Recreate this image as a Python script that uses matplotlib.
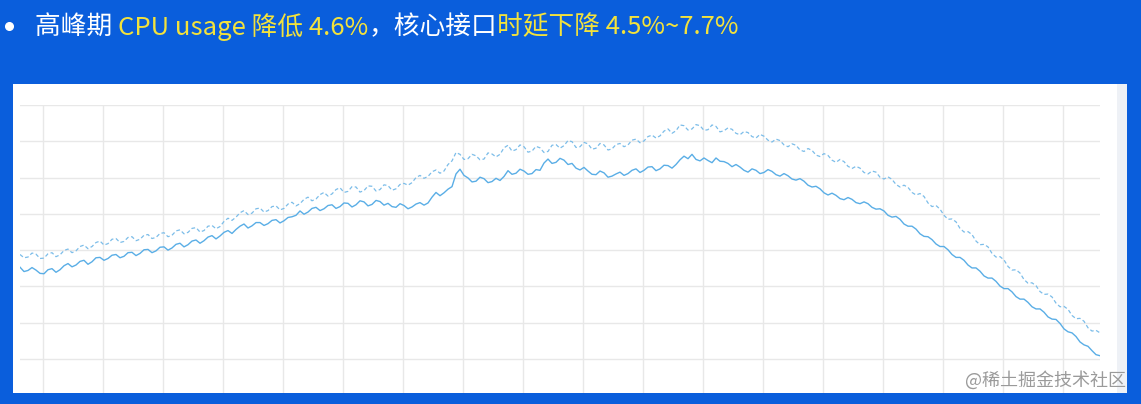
import matplotlib
matplotlib.use('Agg')
import matplotlib.pyplot as plt
import numpy as np
from matplotlib.patches import Rectangle
from matplotlib.lines import Line2D

# two series (arbitrary units, grid step = 10)
baseline = [
    28.8, 27.9, 28.1, 29.2, 28.9, 27.7, 27.8, 29.0, 29.3, 28.2,
    28.7, 29.9, 30.3, 29.3, 29.8, 31.0, 31.4, 30.4, 31.0, 32.1,
    32.5, 31.4, 31.8, 33.0, 33.2, 32.1, 32.4, 33.5, 33.7, 32.6,
    33.0, 34.1, 34.3, 33.2, 33.5, 34.6, 34.8, 33.7, 34.1, 35.3,
    35.6, 34.5, 34.9, 36.0, 36.2, 35.0, 35.4, 36.6, 36.8, 35.9,
    36.5, 37.9, 38.8, 38.2, 39.1, 40.3, 40.9, 39.8, 40.2, 41.4,
    41.6, 40.5, 40.9, 42.0, 42.2, 41.1, 41.5, 42.7, 43.2, 42.2,
    42.8, 44.0, 44.6, 43.6, 44.1, 45.3, 45.9, 44.9, 45.5, 46.7,
    47.2, 45.9, 46.2, 47.5, 47.4, 46.0, 46.4, 47.7, 47.6, 46.3,
    46.7, 48.0, 47.8, 46.5, 46.9, 48.1, 48.4, 47.9, 48.6, 50.0,
    50.6, 49.8, 50.3, 51.6, 52.1, 51.2, 51.8, 53.6, 54.6, 56.9,
    56.4, 55.0, 55.2, 56.4, 56.0, 54.9, 55.1, 56.8, 56.5, 55.7,
    56.4, 58.2, 58.9, 57.3, 57.7, 59.0, 58.5, 57.0, 57.3, 58.6,
    58.2, 56.9, 57.2, 58.9, 59.1, 58.1, 58.8, 60.2, 59.9, 58.3,
    58.5, 59.7, 59.3, 57.8, 58.1, 59.4, 59.0, 57.6, 57.9, 59.1,
    59.4, 58.5, 59.0, 60.3, 60.6, 59.6, 60.1, 61.3, 61.7, 60.9,
    61.5, 62.8, 63.4, 62.2, 62.9, 64.5, 64.3, 63.1, 63.4, 64.6,
    64.3, 63.0, 63.2, 64.5, 64.1, 62.6, 62.9, 63.7, 63.3, 62.2,
    61.8, 62.7, 62.4, 61.3, 60.9, 61.9, 61.4, 60.3, 59.8, 60.6,
    60.2, 59.0, 58.5, 59.3, 58.9, 57.6, 57.2, 58.0, 57.5, 56.2,
    55.8, 56.6, 56.1, 54.8, 54.2, 55.0, 54.4, 53.1, 52.5, 53.1,
    52.6, 51.4, 51.0, 51.8, 51.5, 50.1, 49.6, 50.2, 49.5, 48.1,
    47.4, 47.9, 47.3, 45.9, 45.2, 45.6, 44.8, 43.0, 42.0, 42.3,
    41.3, 39.6, 38.5, 38.6, 37.8, 36.0, 35.0, 35.1, 34.3, 32.5,
    31.5, 31.6, 30.9, 29.1, 28.1, 28.2, 27.3, 25.5, 24.5, 24.6,
    23.7, 21.9, 20.9, 21.0, 20.2, 18.6, 17.8, 17.9, 17.1, 15.4,
    14.4, 14.5, 13.7, 12.0, 11.1, 11.2, 10.4, 8.6, 7.7, 7.9,
    7.2,
]
optimized = [
    25.3, 24.1, 24.4, 25.2, 24.5, 23.6, 23.5, 24.6, 24.9, 23.9,
    24.6, 25.7, 26.3, 25.4, 25.9, 26.9, 27.2, 26.1, 26.8, 27.9,
    28.0, 27.2, 27.7, 28.6, 28.8, 27.9, 28.3, 29.3, 29.4, 28.5,
    29.1, 30.1, 30.2, 29.3, 29.8, 30.8, 30.9, 30.0, 30.6, 31.6,
    31.9, 30.9, 31.5, 32.5, 32.8, 31.9, 32.6, 33.6, 34.0, 33.1,
    33.9, 34.9, 35.4, 34.6, 35.7, 36.6, 37.2, 36.1, 36.7, 37.6,
    37.6, 36.8, 37.3, 38.2, 38.4, 37.5, 38.1, 39.0, 39.2, 39.6,
    40.8, 39.9, 40.5, 41.5, 41.8, 40.9, 41.4, 42.3, 42.5, 41.5,
    42.0, 43.0, 42.9, 41.9, 42.5, 43.6, 43.3, 42.2, 42.6, 43.7,
    43.4, 42.4, 42.9, 42.0, 41.8, 42.8, 42.3, 41.4, 41.9, 42.7,
    43.1, 42.4, 43.0, 44.6, 45.9, 45.0, 45.8, 46.8, 47.5, 51.0,
    52.3, 50.6, 49.9, 48.8, 49.0, 50.1, 49.7, 48.6, 48.9, 49.8,
    49.2, 50.3, 51.9, 50.9, 51.2, 52.3, 51.8, 50.9, 51.1, 52.2,
    52.0, 54.0, 55.1, 53.9, 54.2, 55.3, 54.8, 53.6, 53.9, 52.6,
    52.1, 52.8, 51.8, 50.9, 50.8, 51.8, 51.3, 50.1, 50.4, 51.0,
    51.5, 50.6, 51.1, 52.0, 52.4, 51.4, 52.0, 52.9, 53.0, 51.9,
    52.4, 53.4, 53.3, 52.6, 53.6, 54.9, 55.9, 55.2, 56.4, 55.0,
    54.6, 55.4, 54.7, 54.1, 55.4, 54.5, 54.4, 53.9, 53.0, 53.6,
    52.9, 52.0, 51.5, 52.4, 52.0, 51.1, 51.4, 52.2, 51.7, 50.8,
    50.4, 51.1, 50.5, 49.6, 49.3, 49.7, 49.0, 47.9, 47.4, 47.6,
    46.9, 45.8, 45.2, 45.7, 45.1, 44.2, 43.9, 44.5, 44.0, 43.1,
    42.8, 43.3, 42.8, 41.8, 41.3, 41.4, 40.8, 39.6, 39.1, 39.3,
    38.5, 37.2, 36.6, 36.6, 35.8, 34.5, 33.8, 33.7, 32.9, 31.7,
    31.0, 31.0, 30.1, 28.8, 28.0, 28.0, 27.2, 25.9, 25.1, 25.1,
    24.2, 22.9, 22.3, 22.3, 21.4, 20.1, 19.4, 19.4, 18.5, 17.2,
    16.5, 16.5, 15.6, 14.4, 13.8, 13.8, 12.9, 11.6, 11.0, 10.9,
    9.8, 8.3, 7.5, 7.2, 6.2, 4.7, 3.9, 3.5, 2.3, 1.2,
    0.9,
]

title_parts = [
    ("高峰期 ", "white"),
    ("CPU usage 降低 4.6%", "#f3e23c"),
    ("，核心接口", "white"),
    ("时延下降 4.5%~7.7%", "#f3e23c"),
]

BG = '#0a5edc'
W, H = 1141, 404

fig = plt.figure(figsize=(W / 100, H / 100), dpi=100, facecolor=BG)
plt.rcParams['font.family'] = ['Noto Sans CJK SC', 'DejaVu Sans']

# white card behind the chart
fig.patches.append(Rectangle((13 / W, 1 - 393 / H), (1127 - 13) / W, (393 - 84) / H,
                             transform=fig.transFigure, facecolor='white', edgecolor='none', zorder=-2))
fig.patches.append(Rectangle((1117 / W, 1 - 393 / H), 10 / W, (393 - 84) / H,
                             transform=fig.transFigure, facecolor='#eef1f6', edgecolor='none', zorder=-2))

ax = fig.add_axes([20 / W, 1 - 393 / H, 1080 / W, (393 - 105) / H])
ax.set_facecolor('none')
ax.set_zorder(1)

x = np.arange(len(optimized))
ax.plot(x, baseline, color='#7cbde9', lw=0.9, linestyle=(0, (3, 2)))
ax.plot(x, optimized, color='#5aaee6', lw=1.0)

ax.set_xlim(0, len(optimized) - 1)
ax.set_ylim(-9.37, 70)
ax.set_xticks(5.75 + 15 * np.arange(18))
ax.set_yticks(np.arange(0, 71, 10))
ax.grid(True, color='#e8e8e8', lw=1)
ax.tick_params(length=0, labelbottom=False, labelleft=False)
for s in ax.spines.values():
    s.set_visible(False)

# bullet dot + multi-colour headline
fig.add_artist(Line2D([9 / W], [1 - 26 / H], marker='o', markersize=5.5, color='white',
                      linestyle='none', transform=fig.transFigure))
fig.canvas.draw()
renderer = fig.canvas.get_renderer()
xpos = 35
for txt, col in title_parts:
    t = fig.text(xpos / W, 1 - 27 / H, txt, color=col, fontsize=18.5, fontweight='medium',
                 va='center', ha='left')
    bb = t.get_window_extent(renderer)
    xpos += bb.width

# watermark
fig.text(1126 / W, 1 - 380 / H, "@稀土掘金技术社区", color='#9a9a9a', fontsize=13,
         ha='right', va='center')

fig.savefig('out.png', dpi=100, facecolor=BG)
